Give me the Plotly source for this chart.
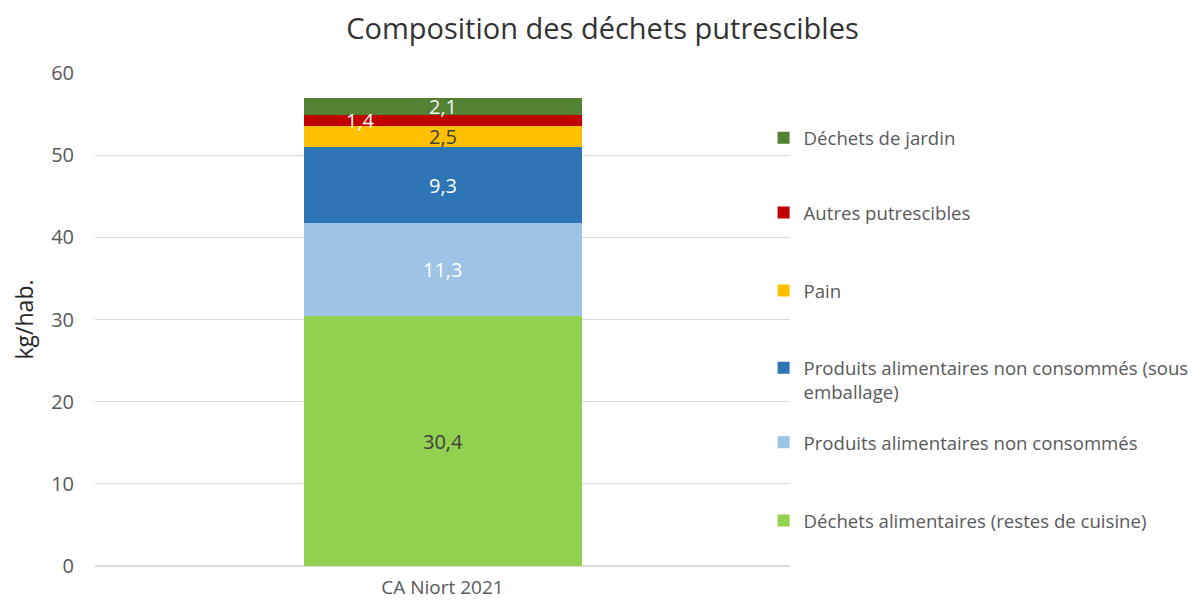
import plotly.graph_objects as go

categories = ["CA Niort 2021"]
series_names = [
    "Déchets alimentaires (restes de cuisine)",
    "Produits alimentaires non consommés",
    "Produits alimentaires non consommés (sous<br>emballage)",
    "Pain",
    "Autres putrescibles",
    "Déchets de jardin",
]
values = [30.4, 11.3, 9.3, 2.5, 1.4, 2.1]
colors = ["#92D050", "#9DC3E6", "#2E75B6", "#FFC000", "#C00000", "#548235"]
label_colors = ["#404040", "#FFFFFF", "#FFFFFF", "#404040", "#FFFFFF", "#F2F2F2"]
label_xshift = [0, 0, 0, 0, -82, 0]
# legend entry vertical centres (paper fraction of plot height)
legend_y = [0.0913, 0.250, 0.377, 0.558, 0.716, 0.868]

FONT = "Open Sans"
FS = 18.6
W, H = 1195, 594  # page body has 8px margin

fig = go.Figure()
legend_keys = ["legend"] + [f"legend{i}" for i in range(2, len(series_names) + 1)]
for i, (name, v, c) in enumerate(zip(series_names, values, colors)):
    fig.add_trace(go.Bar(
        x=categories, y=[v], name=name, marker=dict(color=c, line=dict(width=0)),
        legend=legend_keys[i], hoverinfo="skip",
    ))

cum = 0
for v, lc, xs in zip(values, label_colors, label_xshift):
    center = cum + v / 2
    cum += v
    fig.add_annotation(
        x=categories[0], y=center, text=f"{v:.1f}".replace(".", ","),
        showarrow=False, xshift=xs, font=dict(family=FONT, size=20, color=lc),
    )

legend_layout = {}
for key, ly in zip(legend_keys, legend_y):
    legend_layout[key] = dict(
        x=0.962, xanchor="left", y=ly, yanchor="middle", valign="top",
        font=dict(family=FONT, size=FS, color="#595959"),
        bgcolor="rgba(0,0,0,0)", borderwidth=0,
    )

fig.update_layout(
    width=W, height=H,
    barmode="stack", bargap=0.6,
    paper_bgcolor="white", plot_bgcolor="white",
    margin=dict(l=87, r=413, t=65, b=36, autoexpand=False),
    title=dict(text="Composition des déchets putrescibles", xref="container", x=0.4975,
               xanchor="center", yref="container", y=0.9646, yanchor="middle",
               font=dict(family=FONT, size=29, color="#333333")),
    font=dict(family=FONT, size=FS, color="#595959"),
    showlegend=True,
    **legend_layout,
)
fig.update_yaxes(range=[0, 60], dtick=10, showgrid=True, gridcolor="#D9D9D9",
                 gridwidth=1, zeroline=True, zerolinecolor="#D9D9D9",
                 ticks="", ticklabelstandoff=20, automargin=False,
                 tickfont=dict(family=FONT, size=20, color="#595959"),
                 title=dict(text="kg/hab.", font=dict(family=FONT, size=23, color="#262626"),
                            standoff=34))
fig.update_xaxes(showgrid=False, showline=True, linecolor="#D9D9D9", ticks="",
                 ticklabelstandoff=4, automargin=False,
                 tickfont=dict(family=FONT, size=19, color="#595959"))

fig.write_html("out.html")
